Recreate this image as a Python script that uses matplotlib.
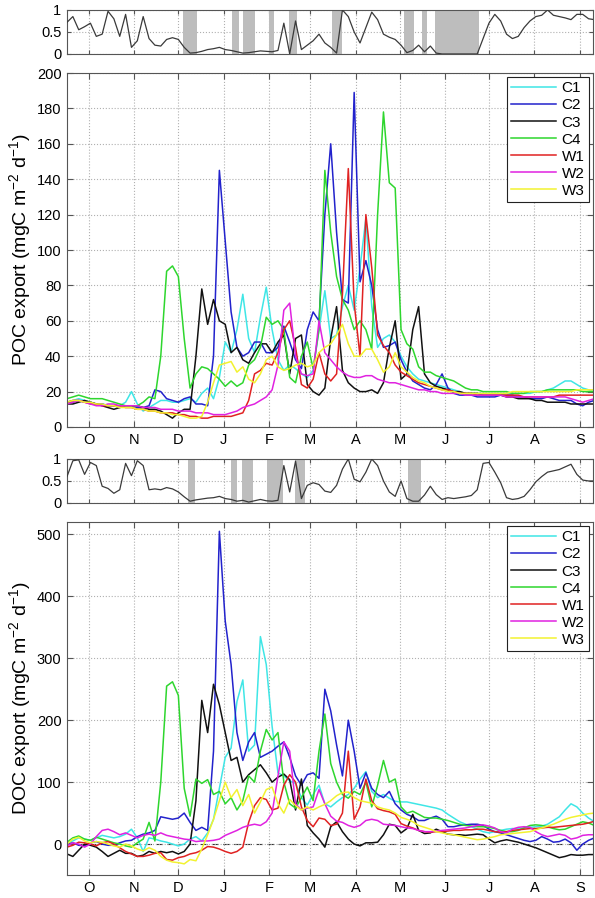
# POC / DOC export time series with index panels
import numpy as np
import matplotlib
matplotlib.use('Agg')
import matplotlib.pyplot as plt

plt.rcParams['font.family'] = ['Liberation Sans', 'DejaVu Sans']
plt.rcParams['mathtext.default'] = 'regular'

# ---- data ------------------------------------------------------------
# days since 1 Oct, every 4 days
days = np.arange(-15, 346, 4)

month_days = [0, 31, 61, 92, 123, 151, 182, 212, 243, 273, 304, 335]
month_labels = ['O', 'N', 'D', 'J', 'F', 'M', 'A', 'M', 'J', 'J', 'A', 'S']

series_names = ['C1', 'C2', 'C3', 'C4', 'W1', 'W2', 'W3']
series_colors = ['#3fe6e6', '#2222cc', '#111111', '#2ed62e', '#e02222', '#e022e0', '#f2f230']

# index (0-1) above each panel
poc_index = [0.72, 0.85, 0.55, 0.62, 0.7, 0.4, 0.45, 0.97, 0.8, 0.4, 0.9,
             0.15, 0.3, 0.85, 0.35, 0.2, 0.18, 0.33, 0.37, 0.33, 0.15,
             0.02, 0.03, 0.06, 0.1, 0.12, 0.15, 0.1, 0.08, 0.05, 0.02,
             0.03, 0.05, 0.07, 0.06, 0.05, 0.08, 0.7, 0.0, 0.75, 0.1,
             0.2, 0.3, 0.45, 0.25, 0.15, 0.02, 1.0, 0.85, 0.5, 0.25,
             0.6, 0.95, 0.78, 0.45, 0.38, 0.33, 0.2, 0.03, 0.08, 0.2,
             0.05, 0.18, 0.02, 0.0, 0.0, 0.0, 0.0, 0.0, 0.0, 0.0,
             0.35, 0.7, 0.9, 0.75, 0.45, 0.35, 0.4, 0.6, 0.75, 0.85,
             0.88, 1.0, 0.88, 0.85, 0.82, 0.78, 0.9, 0.9, 0.8, 0.78]
doc_index = [0.6, 0.96, 0.98, 0.65, 0.92, 0.85, 0.38, 0.33, 0.22, 0.3, 0.9,
             0.62, 0.96, 0.85, 0.3, 0.32, 0.3, 0.35, 0.32, 0.25, 0.14,
             0.04, 0.07, 0.09, 0.11, 0.12, 0.15, 0.1, 0.08, 0.04, 0.06,
             0.02, 0.05, 0.08, 0.05, 0.04, 0.06, 0.85, 0.25, 0.95, 0.1,
             0.4, 0.46, 0.42, 0.27, 0.24, 0.4, 0.77, 1.0, 0.54, 0.48,
             0.7, 1.0, 0.85, 0.5, 0.25, 0.15, 0.5, 0.1, 0.04, 0.04,
             0.18, 0.38, 0.19, 0.08, 0.12, 0.1, 0.12, 0.14, 0.17, 0.3,
             0.9, 0.92, 0.7, 0.46, 0.12, 0.08, 0.1, 0.15, 0.3, 0.48,
             0.6, 0.7, 0.73, 0.76, 0.82, 0.88, 0.65, 0.52, 0.5, 0.5]

# shaded periods (start day, end day)
poc_shade = [(64, 74), (97.5, 102.5), (105, 113), (123, 126.5), (136.5, 142),
             (166, 172.5), (215, 222), (227, 231), (236, 266)]
doc_shade = [(67.5, 72.5), (97, 101), (104.5, 112), (121.5, 132.5), (140.5, 147.5),
             (218, 226.5)]

# POC export (mgC m-2 d-1)
poc_c1 = [14, 15, 16, 15, 14, 13, 13, 12, 12, 12, 14,
          20, 13, 9, 11, 13, 15, 15, 14, 14, 15,
          16, 14, 19, 22, 16, 28, 48, 42, 55, 75,
          50, 42, 62, 79, 55, 38, 32, 35, 33, 30,
          28, 32, 55, 77, 50, 52, 68, 80, 66, 90,
          118, 68, 45, 50, 52, 48, 40, 34, 30, 27,
          26, 25, 24, 23, 22, 21, 20, 19, 19, 19,
          19, 19, 19, 19, 19, 19, 19, 19, 19, 20,
          20, 21, 22, 24, 26, 26, 24, 22, 21, 20]
poc_c2 = [14, 14, 15, 14, 14, 13, 13, 12, 12, 11, 12,
          12, 11, 11, 12, 21, 20, 16, 15, 14, 16,
          17, 13, 13, 12, 40, 145, 105, 65, 45, 40,
          42, 48, 48, 42, 42, 45, 57, 48, 38, 33,
          55, 65, 60, 120, 160, 110, 72, 70, 189, 82,
          94, 80, 55, 45, 46, 48, 38, 31, 26, 24,
          22, 21, 24, 30, 22, 19, 18, 18, 18, 17,
          17, 17, 17, 18, 18, 18, 17, 17, 16, 16,
          16, 17, 16, 15, 15, 15, 13, 12, 14, 15]
poc_c3 = [13, 13, 14, 15, 14, 13, 12, 11, 10, 11, 12,
          12, 12, 11, 10, 10, 9, 7, 5, 8, 10,
          10, 40, 78, 58, 72, 60, 58, 42, 45, 38,
          36, 42, 47, 47, 42, 48, 52, 30, 50, 52,
          24, 20, 18, 22, 50, 68, 32, 25, 22, 20,
          20, 21, 19, 25, 45, 60, 27, 30, 55, 68,
          30, 25, 23, 22, 21, 20, 20, 19, 19, 19,
          18, 18, 18, 18, 17, 17, 16, 16, 16, 15,
          15, 14, 14, 14, 14, 13, 13, 13, 13, 13]
poc_c4 = [16, 17, 18, 17, 16, 16, 16, 15, 14, 13, 12,
          12, 12, 14, 17, 16, 40, 88, 91, 85, 50,
          22, 30, 34, 33, 30, 27, 23, 26, 23, 25,
          35, 38, 45, 62, 58, 60, 55, 28, 25, 40,
          48, 33, 55, 145, 110, 85, 72, 66, 55, 60,
          55, 44, 120, 178, 138, 135, 55, 47, 44, 34,
          31, 31, 29, 28, 27, 26, 24, 22, 21, 21,
          20, 20, 20, 20, 20, 19, 19, 19, 20, 20,
          20, 21, 21, 21, 21, 21, 21, 20, 20, 20]
poc_w1 = [14, 15, 15, 14, 13, 13, 12, 12, 12, 12, 11,
          11, 10, 10, 9, 9, 8, 8, 8, 7, 7,
          6, 6, 5, 5, 6, 6, 6, 6, 7, 8,
          15, 30, 32, 36, 35, 42, 55, 60, 45, 24,
          22, 27, 42, 30, 26, 30, 75, 146, 70, 40,
          120, 90, 52, 46, 42, 35, 31, 29, 27, 25,
          24, 23, 22, 21, 21, 20, 19, 19, 19, 18,
          18, 18, 18, 18, 18, 18, 18, 17, 17, 17,
          17, 17, 17, 18, 18, 18, 18, 18, 18, 18]
poc_w2 = [13, 14, 15, 14, 13, 12, 12, 13, 13, 12, 12,
          12, 12, 11, 11, 11, 10, 10, 10, 9, 9,
          9, 8, 8, 8, 7, 7, 7, 8, 9, 11,
          12, 13, 15, 17, 21, 35, 66, 70, 40, 30,
          29, 30, 60, 42, 38, 34, 31, 29, 28, 28,
          29, 29, 27, 26, 25, 25, 24, 23, 22, 21,
          21, 20, 20, 19, 19, 19, 19, 18, 18, 18,
          18, 18, 18, 18, 17, 17, 17, 17, 17, 17,
          17, 17, 17, 17, 17, 16, 15, 14, 15, 16]
poc_w3 = [14, 15, 15, 14, 14, 13, 13, 12, 12, 11, 11,
          11, 10, 10, 9, 9, 8, 8, 7, 7, 6,
          5, 5, 6, 14, 25, 35, 36, 37, 31, 34,
          27, 25, 30, 38, 40, 34, 32, 33, 35, 36,
          34, 35, 42, 45, 47, 52, 58, 47, 40, 40,
          44, 44, 38, 31, 34, 42, 34, 31, 28, 26,
          25, 23, 22, 21, 20, 20, 19, 19, 19, 19,
          19, 19, 19, 19, 19, 20, 20, 20, 20, 20,
          20, 20, 20, 20, 20, 20, 21, 21, 21, 21]

# DOC export (mgC m-2 d-1)
doc_c1 = [2, 5, 10, 8, 6, 10, 14, 12, 10, 12, 16,
          24, 10, -12, 10, 8, 5, 3, 0, -3, 0,
          8, 12, 5, 18, 40, 90, 140, 155, 230, 265,
          150, 160, 335, 290, 190, 115, 110, 102, 98, 75,
          63, 80, 95, 65, 60, 68, 75, 80, 90, 105,
          117, 85, 75, 80, 74, 69, 68, 68, 66, 64,
          62, 60, 58, 55, 48, 42, 36, 32, 28, 24,
          20, 18, 20, 22, 24, 25, 25, 26, 27, 28,
          29, 32, 38, 44, 55, 65, 60, 50, 42, 36]
doc_c2 = [0, 2, -2, -3, 2, 4, 0, -2, -2, 2, 5,
          6, 12, 16, 18, 22, 44, 42, 40, 42, 50,
          35, 22, 27, 22, 150, 505, 360, 290, 180, 135,
          165, 180, 140, 145, 150, 158, 165, 140, 110, 95,
          112, 115, 106, 250, 215, 160, 110, 200, 150, 90,
          115, 90, 80, 75, 85, 65, 55, 48, 44, 38,
          38, 42, 45, 40, 28, 28, 30, 31, 32, 32,
          30, 24, 20, 18, 15, 12, 9, 6, 4, 6,
          12, 8, 3, 4, 8, 2, -10, 0, 6, 10]
doc_c3 = [-16, -20, -10, 0, -2, -5, -12, -20, -15, -10, -15,
          -15, -20, -18, -12, -15, -12, -14, -12, -16, -12,
          0, 70, 232, 180, 258, 225, 180, 135, 140, 100,
          112, 120, 128, 115, 100, 108, 113, 104, 55, 105,
          30, 18, 8, -5, 28, 36, 20, 8, 0, -3,
          2, 2, 3, 15, 32, 30, 18, 25, 48, 22,
          17, 18, 24, 20, 16, 15, 15, 14, 15, 16,
          15, 8, 2, 5, 7, 5, 3, 0, -3, -6,
          -10, -14, -18, -22, -20, -17, -18, -18, -17, -17]
doc_c4 = [3, 10, 13, 8, 6, 11, 8, 5, 2, 0, -3,
          -5, 2, 8, 35, 5, 100, 255, 262, 240, 90,
          45, 105, 98, 104, 80, 85, 65, 75, 55, 70,
          110, 100, 150, 185, 168, 180, 100, 65, 58, 75,
          92, 70, 150, 210, 130, 100, 80, 74, 85, 80,
          100, 60, 95, 135, 100, 105, 60, 50, 53, 48,
          43, 42, 42, 40, 38, 35, 32, 30, 29, 28,
          28, 27, 25, 22, 20, 20, 22, 26, 30, 31,
          30, 28, 25, 23, 24, 28, 32, 36, 34, 30]
doc_w1 = [-5, -2, 3, 2, 0, -3, 2, 4, 0, -6, -12,
          -16, -20, -20, -18, -15, -14, -25, -26, -22, -20,
          -16, -14, -10, -4, -5, -8, -12, -15, -12, -5,
          35, 62, 75, 72, 55, 58, 95, 112, 100, 60,
          38, 28, 42, 40, 30, 32, 50, 150, 40, 60,
          105, 70, 57, 54, 52, 48, 33, 29, 26, 22,
          20, 19, 20, 20, 21, 22, 22, 23, 23, 24,
          24, 22, 20, 19, 20, 22, 23, 24, 25, 25,
          26, 27, 27, 28, 29, 30, 31, 32, 34, 37]
doc_w2 = [-3, 2, 0, -5, 0, 12, 22, 24, 20, 15, 18,
          14, 10, 14, 16, 14, 18, 14, 12, 10, 8,
          7, 4, 5, 5, 6, 8, 14, 18, 22, 27,
          30, 32, 30, 36, 50, 110, 165, 150, 65, 55,
          58, 60, 88, 65, 45, 37, 35, 30, 27, 30,
          38, 40, 38, 32, 31, 30, 28, 26, 25, 22,
          20, 20, 21, 22, 23, 24, 25, 26, 28, 30,
          31, 29, 26, 20, 18, 24, 27, 28, 27, 20,
          15, 12, 14, 16, 14, 8, 10, 14, 15, 15]
doc_w3 = [0, 8, 11, 5, 2, 4, 3, 0, -3, -5, 0,
          -3, -8, -11, -6, -10, -20, -26, -29, -30, -32,
          -25, -27, -8, 15, 40, 70, 100, 75, 88, 62,
          80, 50, 68, 88, 92, 65, 50, 72, 62, 55,
          60, 55, 60, 64, 70, 78, 83, 84, 75, 70,
          68, 66, 60, 57, 55, 50, 43, 40, 36, 30,
          27, 24, 20, 18, 16, 15, 13, 11, 9, 7,
          8, 10, 12, 15, 16, 17, 18, 19, 20, 23,
          26, 29, 32, 36, 40, 43, 45, 47, 49, 50]

poc_all = [poc_c1, poc_c2, poc_c3, poc_c4, poc_w1, poc_w2, poc_w3]
doc_all = [doc_c1, doc_c2, doc_c3, doc_c4, doc_w1, doc_w2, doc_w3]

# ---- figure ----------------------------------------------------------
fig = plt.figure(figsize=(5.95, 8.98), dpi=100)
left, width = 0.1126, 0.884
ax_pi = fig.add_axes([left, 0.9399, width, 0.049])   # POC index
ax_poc = fig.add_axes([left, 0.5245, width, 0.3942])  # POC
ax_di = fig.add_axes([left, 0.4399, width, 0.049])   # DOC index
ax_doc = fig.add_axes([left, 0.0256, width, 0.3931])  # DOC

grid_kw = dict(linestyle=':', color='#b0b0b0', linewidth=0.8)
spine_col = '#555555'


def style_axes(ax):
    ax.set_xlim(-15, 344)
    ax.set_xticks(month_days)
    ax.set_axisbelow(True)
    ax.grid(True, **grid_kw)
    ax.tick_params(direction='in', top=True, right=True, length=4,
                   width=0.8, color=spine_col, labelsize=10.5, pad=4)
    for s in ax.spines.values():
        s.set_color(spine_col)
        s.set_linewidth(0.8)


# index panels
for ax, idx, shade in [(ax_pi, poc_index, poc_shade), (ax_di, doc_index, doc_shade)]:
    for a, b in shade:
        ax.axvspan(a, b, color='#bdbdbd', lw=0, zorder=1)
    ax.plot(days, idx, color='#3a3a3a', lw=0.9, zorder=3)
    style_axes(ax)
    ax.set_ylim(0, 1)
    ax.set_yticks([0, 0.5, 1])
    ax.set_yticklabels(['0', '0.5', '1'])
    ax.set_xticklabels([])
    ax.tick_params(length=3)

# main panels
for ax, data in [(ax_poc, poc_all), (ax_doc, doc_all)]:
    for vals, name, col in zip(data, series_names, series_colors):
        ax.plot(days, vals, color=col, lw=1.1, label=name)
    style_axes(ax)
    ax.set_xticklabels(month_labels)
    leg = ax.legend(loc='upper right', fontsize=11, fancybox=False, framealpha=1,
                    edgecolor='#222222', borderaxespad=0.25, handlelength=2.9,
                    labelspacing=0.2, borderpad=0.3, handletextpad=0.4)
    leg.get_frame().set_linewidth(0.8)

ax_poc.set_ylim(0, 200)
ax_poc.set_yticks(range(0, 201, 20))
ax_poc.set_ylabel('POC export (mgC m$^{-2}$ d$^{-1}$)', fontsize=14, labelpad=3)

ax_doc.axhline(0, color='#333333', lw=0.8, ls=(0, (6, 4)), zorder=0.5)
ax_doc.set_ylim(-50, 520)
ax_doc.set_yticks([0, 100, 200, 300, 400, 500])
ax_doc.set_ylabel('DOC export (mgC m$^{-2}$ d$^{-1}$)', fontsize=14, labelpad=3)

fig.savefig('out.png', dpi=100)
